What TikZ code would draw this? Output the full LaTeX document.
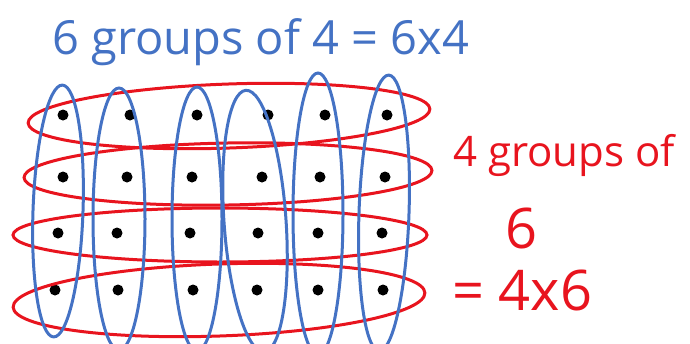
\documentclass[tikz,border=0pt]{standalone}
\usepackage{fontspec}
\setmainfont{Open Sans}
\usetikzlibrary{positioning}
\definecolor{penblue}{HTML}{4472C4}
\definecolor{penred}{HTML}{E8141E}

\begin{document}
\begin{tikzpicture}[x=1pt, y=-1pt,
  dot/.style={circle, fill=black, inner sep=0pt, minimum size=11pt},
  colgroup/.style={draw=penblue, line width=3pt},
  rowgroup/.style={draw=penred, line width=3pt},
  bluetext/.style={text=penblue, font=\fontsize{47}{50}\selectfont, inner sep=0pt},
  redtext/.style={text=penred, font=\fontsize{42}{46}\selectfont, inner sep=0pt},
  bigred/.style={text=penred, font=\fontsize{56}{60}\selectfont, inner sep=0pt}
]
\useasboundingbox (0,0) rectangle (690,343);

% the dots, row by row
\foreach \c/\x in {1/63, 2/130, 3/197, 4/268, 5/325, 6/387}
  \node[dot] (d1\c) at (\x,115) {};
\foreach \c/\x in {1/63, 2/127, 3/192, 4/262, 5/320, 6/385}
  \node[dot] (d2\c) at (\x,177) {};
\foreach \c/\x in {1/58, 2/117, 3/190, 4/258, 5/318, 6/382}
  \node[dot] (d3\c) at (\x,233) {};
\foreach \c/\x in {1/55, 2/118, 3/193, 4/257, 5/318, 6/383}
  \node[dot] (d4\c) at (\x,290) {};

% rows of six
\draw[rowgroup, rotate around={2:(229,116)}] (229,116) ellipse [x radius=201, y radius=32];
\draw[rowgroup, rotate around={1:(228,174)}] (228,174) ellipse [x radius=204, y radius=31];
\draw[rowgroup] (220,235) ellipse [x radius=207, y radius=27];
\draw[rowgroup, rotate around={2:(219,300)}] (219,300) ellipse [x radius=206, y radius=36];

% columns of four
\draw[colgroup, rotate around={-2:(58,211)}] (58,211) ellipse [x radius=25, y radius=126];
\draw[colgroup] (119,219) ellipse [x radius=26, y radius=131];
\draw[colgroup] (197,219) ellipse [x radius=25, y radius=132];
\draw[colgroup, rotate around={4:(255,221)}] (255,221) ellipse [x radius=31, y radius=131];
\draw[colgroup] (318,214) ellipse [x radius=25, y radius=141];
\draw[colgroup, rotate around={-2:(384,213)}] (384,213) ellipse [x radius=25, y radius=138];

% labels
\node[bluetext, anchor=west] (cols) at (52,42) {6 groups of 4 = 6x4};
\node[redtext, anchor=west] (rows) at (453,155) {4 groups of};
\node[bigred] (six) at (522,228) {6};
\node[bigred, anchor=west] (prod) at (452,290) {= 4x6};
\end{tikzpicture}
\end{document}
